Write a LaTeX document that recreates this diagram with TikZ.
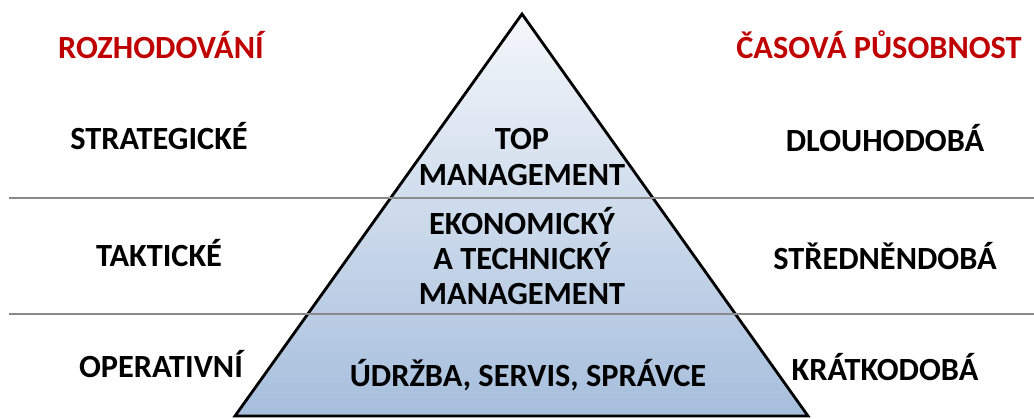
\documentclass[tikz,border=0pt]{standalone}
\usepackage{fontspec}
\setmainfont{Carlito}
\usepackage{tikz}
\usetikzlibrary{positioning}
\definecolor{headred}{RGB}{192,0,0}
\definecolor{pyrtop}{RGB}{244,247,251}
\definecolor{pyrbottom}{RGB}{166,190,220}
\definecolor{levelgray}{RGB}{138,138,138}
\tikzstyle{lvltext} = [font=\fontsize{23}{25}\selectfont\bfseries, align=center, inner sep=0pt]
\tikzstyle{headtext} = [lvltext, text=headred]
\tikzstyle{level_line} = [levelgray, line width=2pt]
\tikzstyle{pyramid} = [top color=pyrtop, bottom color=pyrbottom, draw=black, line width=2pt]

\begin{document}
\begin{tikzpicture}[x=0.025cm, y=-0.025cm]
        \useasboundingbox (0,0) rectangle (1034,419);
        \coordinate (apex) at (522,14);
        \coordinate (base_left) at (235,416);
        \coordinate (base_right) at (808,416);
        \shade[pyramid] (apex) -- (base_right) -- (base_left) -- cycle;
        
        % level borders
        \draw[level_line] (9,198) coordinate(upper_left) -- (1034,198) coordinate(upper_right);
        \draw[level_line] (9,314) coordinate(lower_left) -- (1034,314) coordinate(lower_right);
        
        \node[headtext, anchor=base] (rozhodovani) at (161,59) {ROZHODOVÁNÍ};
        \node[headtext, anchor=base] (pusobnost) at (879,59) {ČASOVÁ PŮSOBNOST};
        
        \node[lvltext, anchor=base] (strategicke) at (159,150) {STRATEGICKÉ};
        \node[lvltext, anchor=base] (takticke) at (159,267) {TAKTICKÉ};
        \node[lvltext, anchor=base] (operativni) at (161,378) {OPERATIVNÍ};
        
        \node[lvltext] (top_mgmt) at (522,157) {TOP\\MANAGEMENT};
        \node[lvltext] (middle_mgmt) at (522,256) {EKONOMICKÝ\\A TECHNICKÝ\\MANAGEMENT};
        \node[lvltext, anchor=base] (udrzba) at (528,387) {ÚDRŽBA, SERVIS, SPRÁVCE};
        
        \node[lvltext, anchor=base] (dlouhodoba) at (885,152) {DLOUHODOBÁ};
        \node[lvltext, anchor=base] (strednedoba) at (885,270) {STŘEDNĚNDOBÁ};
        \node[lvltext, anchor=base] (kratkodoba) at (885,381) {KRÁTKODOBÁ};
        
    \end{tikzpicture}
\end{document}
